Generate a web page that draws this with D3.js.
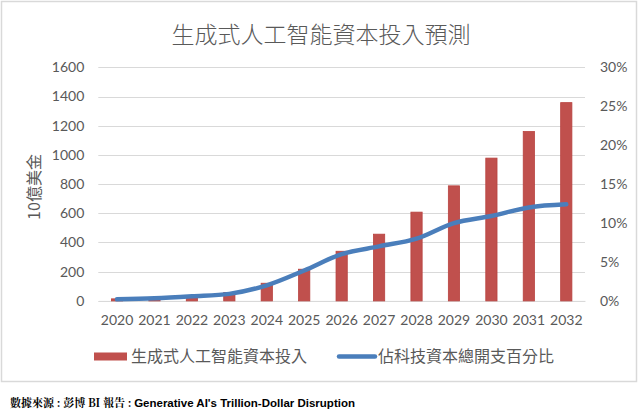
<!DOCTYPE html>
<html><head><meta charset="utf-8">
<script src="https://cdn.jsdelivr.net/npm/d3@7"></script>
<style>
html,body{margin:0;padding:0;background:#fff;}
svg{display:block;}
</style></head>
<body>
<svg id="chart" width="640" height="418"></svg>
<script>
const years = ["2020","2021","2022","2023","2024","2025","2026","2027","2028","2029","2030","2031","2032"];
const investment = [14, 12, 28, 57, 121, 217, 340, 457, 608, 788, 978, 1160, 1358];
const sharePct = [0.2, 0.35, 0.6, 0.9, 2.0, 3.9, 6.0, 7.0, 8.0, 10.0, 10.9, 12.0, 12.4];
const leftTicks = [0, 200, 400, 600, 800, 1000, 1200, 1400, 1600];
const rightTicks = [0, 5, 10, 15, 20, 25, 30];
const titleText = "生成式人工智能資本投入預測";
const yTitleText = "10億美金";
const seriesNames = ["生成式人工智能資本投入", "佔科技資本總開支百分比"];
const sourceCN = "數據來源 : 彭博 BI 報告 : ";
const sourceEN = "Generative AI's Trillion-Dollar Disruption";

const svg = d3.select("#chart");
const cjk = "'Noto Sans CJK TC','Noto Sans CJK SC',sans-serif";
const num = "Lato,'Liberation Sans',sans-serif";
const grey = "#595959";

// chart border
svg.append("rect").attr("x",1.5).attr("y",1.5).attr("width",635).attr("height",380)
  .attr("fill","#fff").attr("stroke","#d9d9d9").attr("stroke-width",1.5);

const pL = 98.3, pR = 585, pT = 67.3, pB = 300.9;

const x = d3.scaleBand().domain(years).range([pL, pR]).paddingInner(0.7).paddingOuter(0.35);
const yL = d3.scaleLinear().domain([0,1600]).range([pB, pT]);
const yR = d3.scaleLinear().domain([0,30]).range([pB, pT]);

// gridlines
svg.append("g").selectAll("line").data(leftTicks).join("line")
  .attr("x1",pL).attr("x2",pR)
  .attr("y1",d=>Math.round(yL(d))+0.5).attr("y2",d=>Math.round(yL(d))+0.5)
  .attr("stroke","#d9d9d9").attr("stroke-width",1);

// left axis
const axL = svg.append("g").attr("transform",`translate(${pL},0)`)
  .call(d3.axisLeft(yL).tickValues(leftTicks).tickSize(0).tickPadding(14).tickFormat(d3.format("d")));
axL.select(".domain").remove();
axL.selectAll("text").attr("font-family",num).attr("font-size",14).attr("fill",grey);

// right axis
const axR = svg.append("g").attr("transform",`translate(${pR},0)`)
  .call(d3.axisRight(yR).tickValues(rightTicks).tickSize(0).tickPadding(15).tickFormat(d=>d+"%"));
axR.select(".domain").remove();
axR.selectAll("text").attr("font-family",num).attr("font-size",14).attr("fill",grey);

// bottom axis
const axB = svg.append("g").attr("transform",`translate(0,${pB})`)
  .call(d3.axisBottom(x).tickSize(0).tickPadding(14));
axB.select(".domain").attr("stroke","#d9d9d9");
axB.selectAll("text").attr("font-family",num).attr("font-size",14).attr("fill",grey);

// bars
svg.append("g").selectAll("rect").data(years).join("rect")
  .attr("x",d=>x(d)).attr("width",x.bandwidth())
  .attr("y",(d,i)=>yL(investment[i])).attr("height",(d,i)=>pB-yL(investment[i]))
  .attr("fill","#c0504d").attr("stroke","#b8423f").attr("stroke-width",0.8);

// line
const line = d3.line()
  .x((d,i)=>x(years[i])+x.bandwidth()/2)
  .y(d=>yR(d))
  .curve(d3.curveCatmullRom.alpha(0));
svg.append("path").datum(sharePct).attr("d",line)
  .attr("fill","none").attr("stroke","#4a7ebb").attr("stroke-width",4.5)
  .attr("stroke-linecap","round").attr("stroke-linejoin","round");

// title
svg.append("text").attr("x",321).attr("y",43).attr("text-anchor","middle")
  .attr("font-family",cjk).attr("font-size",23).attr("font-weight",300).attr("fill",grey)
  .text(titleText);

// y axis title
svg.append("text").attr("transform","translate(40,187) rotate(-90)").attr("text-anchor","middle")
  .attr("font-family",cjk).attr("font-size",16).attr("fill",grey)
  .text(yTitleText);

// legend
svg.append("rect").attr("x",94).attr("y",352.5).attr("width",33).attr("height",8).attr("fill","#c0504d");
svg.append("text").attr("x",131).attr("y",362).attr("font-family",cjk).attr("font-size",16).attr("fill",grey).text(seriesNames[0]);
svg.append("line").attr("x1",339).attr("x2",375).attr("y1",356.5).attr("y2",356.5)
  .attr("stroke","#4a7ebb").attr("stroke-width",4.5).attr("stroke-linecap","round");
svg.append("text").attr("x",378).attr("y",362).attr("font-family",cjk).attr("font-size",16).attr("fill",grey).text(seriesNames[1]);

// source
const src = svg.append("text").attr("x",10).attr("y",407).attr("font-weight","bold").attr("fill","#000");
src.append("tspan").attr("font-family","'Noto Serif CJK TC','Noto Sans CJK TC',serif").attr("font-size",11).text(sourceCN);
src.append("tspan").attr("font-family","'Liberation Sans Narrow','Liberation Sans',sans-serif").attr("font-size",11.5).text(sourceEN);
</script>
</body></html>
